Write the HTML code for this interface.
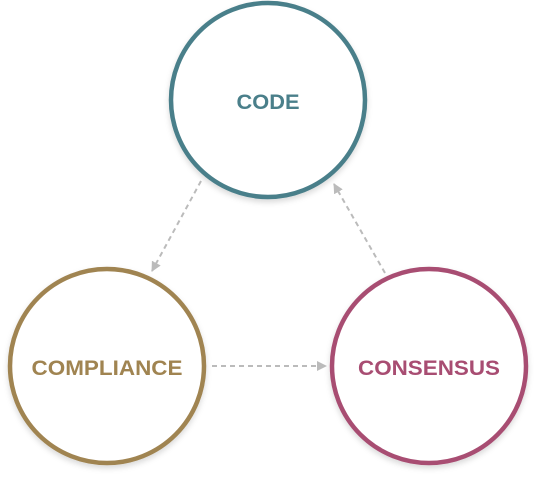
<!DOCTYPE html>
<html><head><style>html,body{margin:0;padding:0;background:#fff;}svg{display:block}</style></head>
<body>
<svg width="536" height="480" viewBox="0 0 536 480" xmlns="http://www.w3.org/2000/svg">
<defs>
<filter id="sh" x="-20%" y="-20%" width="140%" height="140%"><feDropShadow dx="0" dy="3" stdDeviation="3" flood-color="#000" flood-opacity="0.15"/></filter>
<marker id="ah" viewBox="0 0 10 10" refX="9" refY="5" markerWidth="10" markerHeight="10" markerUnits="userSpaceOnUse" orient="auto"><path d="M0,0 L10,5 L0,10 z" fill="#bbb"/></marker>
</defs>
<g stroke="#bbb" stroke-width="2" stroke-dasharray="5,4" fill="none" marker-end="url(#ah)">
<line x1="201" y1="181" x2="152" y2="271"/>
<line x1="212" y1="366" x2="326" y2="366"/>
<line x1="385" y1="273" x2="334" y2="184"/>
</g>
<g fill="#fff" stroke-width="4.5" filter="url(#sh)">
<circle cx="268" cy="100" r="97" stroke="#4a7f8a"/>
<circle cx="107" cy="366" r="97" stroke="#a08451"/>
<circle cx="429" cy="366" r="97" stroke="#a84d72"/>
</g>
<g font-family="Liberation Sans, sans-serif" font-size="21" font-weight="bold" text-anchor="middle">
<text x="268" y="109" fill="#4a7f8a" textLength="63" lengthAdjust="spacingAndGlyphs">CODE</text>
<text x="107" y="375" fill="#a08451" textLength="151" lengthAdjust="spacingAndGlyphs">COMPLIANCE</text>
<text x="429" y="375" fill="#a84d72" textLength="142" lengthAdjust="spacingAndGlyphs">CONSENSUS</text>
</g>
</svg>
</body></html>
